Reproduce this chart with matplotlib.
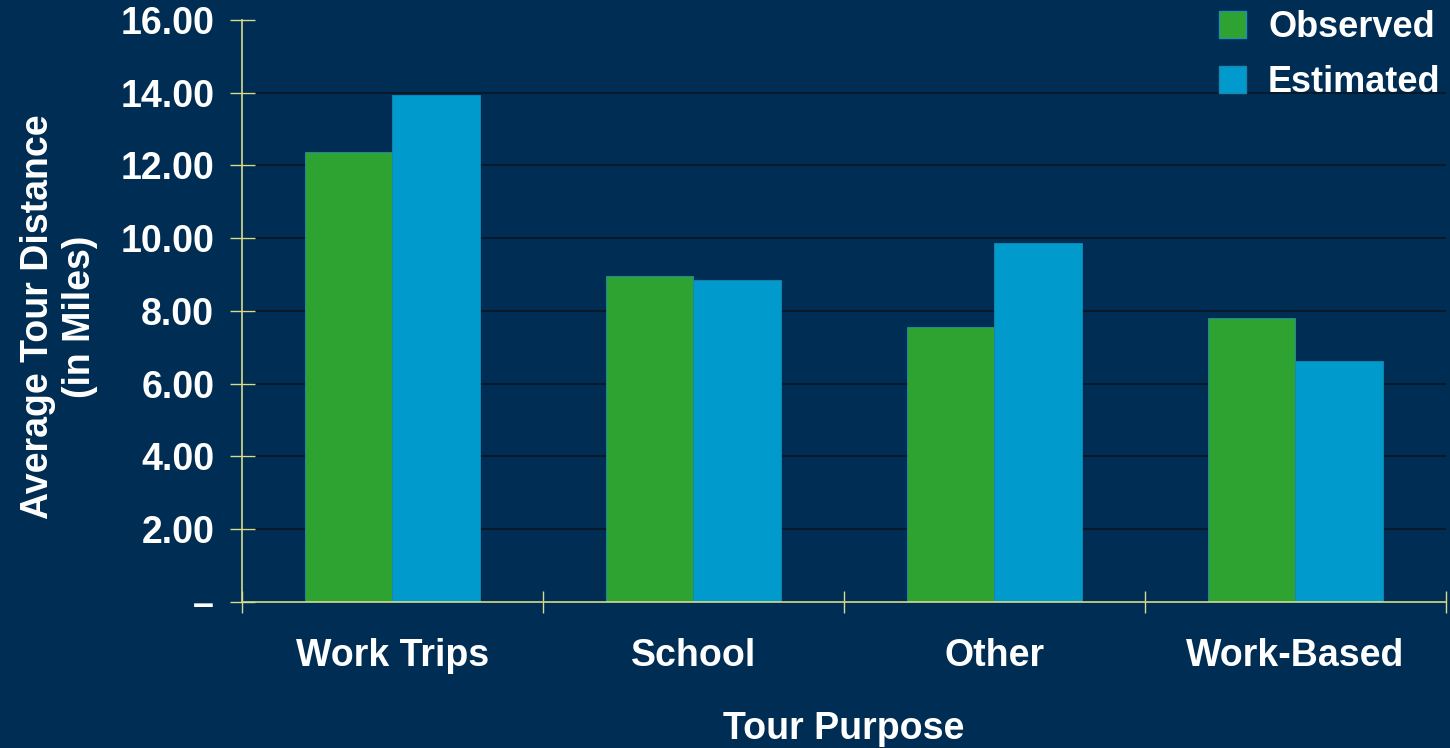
import numpy as np
import matplotlib.pyplot as plt
from matplotlib.patches import Patch

purposes = ["Work Trips", "School", "Other", "Work-Based"]
observed = [12.37, 8.96, 7.56, 7.81]
estimated = [13.94, 8.85, 9.87, 6.63]
y_ticks = [0, 2, 4, 6, 8, 10, 12, 14, 16]
y_labels = ["\u2013", "2.00", "4.00", "6.00", "8.00", "10.00", "12.00", "14.00", "16.00"]

bg = "#002d53"
green = "#2fa332"
blue = "#009bcc"
axis_col = "#d6dc8c"

plt.rcParams["font.family"] = ["Liberation Sans", "DejaVu Sans"]
plt.rcParams["font.weight"] = "bold"
plt.rcParams["axes.labelweight"] = "bold"

fig = plt.figure(figsize=(14.5, 7.48), dpi=100, facecolor=bg)
ax = fig.add_axes([0.1669, 0.1952, 0.8303, 0.7781], facecolor=bg)

x = np.arange(len(purposes))
w = 0.29
ax.bar(x - w / 2, observed, w, color=green, edgecolor="#1f8fb0", linewidth=0.6, zorder=3)
ax.bar(x + w / 2, estimated, w, color=blue, edgecolor="#1a86b0", linewidth=0.6, zorder=3)

ax.set_xlim(-0.5, len(purposes) - 0.5)
ax.set_ylim(0, 16)
ax.set_yticks(y_ticks)
ax.set_yticklabels(y_labels)
ax.set_xticks(np.arange(len(purposes) + 1) - 0.5)
ax.set_xticklabels([])
ax.set_xticks(x, minor=True)
ax.set_xticklabels(purposes, minor=True)
ax.tick_params(axis="x", which="minor", length=0, pad=26, labelsize=27, labelcolor="white")
ax.tick_params(axis="x", which="major", direction="inout", length=16, color=axis_col, width=1)
ax.tick_params(axis="y", direction="inout", length=18, color=axis_col, width=1,
               labelsize=27, labelcolor="white", pad=11)

ax.yaxis.grid(True, color="#0a1522", linewidth=1.2, zorder=0)
ax.yaxis.get_gridlines()[-1].set_visible(False)
ax.set_axisbelow(True)
for s in ["top", "right"]:
    ax.spines[s].set_visible(False)
for s in ["left", "bottom"]:
    ax.spines[s].set_color(axis_col)
    ax.spines[s].set_linewidth(1.2)
    ax.spines[s].set_zorder(4)

ax.set_xlabel("Tour Purpose", fontsize=27, color="white")
ax.xaxis.set_label_coords(0.5, -0.188)
ax.set_ylabel("Average Tour Distance\n(in Miles)", fontsize=27, color="white",
              linespacing=1.2)
ax.yaxis.set_label_coords(-0.12, 0.49)

handles = [Patch(facecolor=green, edgecolor="#1f8fb0", label="Observed"),
           Patch(facecolor=blue, edgecolor="#1a86b0", label="Estimated")]
leg = fig.legend(handles=handles, loc="upper right", bbox_to_anchor=(1.016, 1.03),
                 frameon=False, fontsize=26, handlelength=0.75, handleheight=0.75,
                 handletextpad=0.6, labelspacing=0.55)
for t in leg.get_texts():
    t.set_color("white")

fig.savefig("out.png", dpi=100, facecolor=bg)
